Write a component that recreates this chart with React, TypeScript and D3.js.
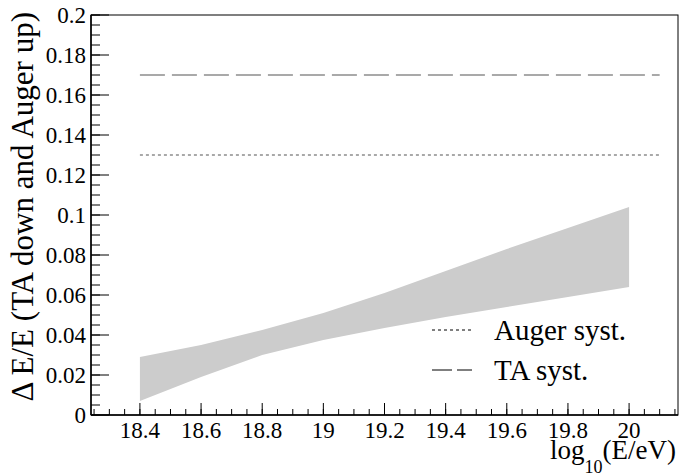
import React, { useEffect, useRef } from "react";
import * as d3 from "d3";

const bandX = [18.4, 18.6, 18.8, 19.0, 19.2, 19.4, 19.6, 19.8, 20.0];
const bandUpper = [0.029, 0.035, 0.0425, 0.051, 0.061, 0.072, 0.083, 0.0935, 0.104];
const bandLower = [0.007, 0.019, 0.030, 0.0375, 0.0435, 0.049, 0.054, 0.059, 0.064];

const augerSyst = 0.13;
const taSyst = 0.17;
const systRange = [18.4, 20.1];

const xTicks = [18.4, 18.6, 18.8, 19, 19.2, 19.4, 19.6, 19.8, 20];
const xTickLabels = ["18.4", "18.6", "18.8", "19", "19.2", "19.4", "19.6", "19.8", "20"];
const yTicks = [0, 0.02, 0.04, 0.06, 0.08, 0.1, 0.12, 0.14, 0.16, 0.18, 0.2];
const yTickLabels = ["0", "0.02", "0.04", "0.06", "0.08", "0.1", "0.12", "0.14", "0.16", "0.18", "0.2"];

const legendLabels = ["Auger syst.", "TA syst."];

const W = 680, H = 475;
const L = 91, R = 678, T = 15, B = 415;
const SERIF = "Liberation Serif";

export default function App() {
  const ref = useRef<SVGSVGElement | null>(null);

  useEffect(() => {
    const svg = d3.select(ref.current);
    svg.selectAll("*").remove();
    svg.attr("font-family", SERIF).style("font-family", SERIF);

    const x = d3.scaleLinear().domain([18.24, 20.16]).range([L, R]);
    const y = d3.scaleLinear().domain([0, 0.2]).range([B, T]);

    const pts = bandX.map((v, i) => ({ x: v, lo: bandLower[i], hi: bandUpper[i] }));
    const area = d3
      .area()
      .x((d: any) => x(d.x))
      .y0((d: any) => y(d.lo))
      .y1((d: any) => y(d.hi));
    svg.append("path").attr("d", (area as any)(pts)).attr("fill", "#cccccc");

    const hline = (val: number, dash: string) =>
      svg
        .append("line")
        .attr("x1", x(systRange[0]))
        .attr("x2", x(systRange[1]))
        .attr("y1", y(val))
        .attr("y2", y(val))
        .attr("stroke", "#555")
        .attr("stroke-width", 1.2)
        .attr("stroke-dasharray", dash);
    hline(taSyst, "25 7");
    hline(augerSyst, "3 3");

    svg
      .append("rect")
      .attr("x", L)
      .attr("y", T)
      .attr("width", R - L)
      .attr("height", B - T)
      .attr("fill", "none")
      .attr("stroke", "#000");
    svg.append("line").attr("x1", L).attr("x2", R).attr("y1", B).attr("y2", B).attr("stroke", "#000").attr("stroke-width", 1.5);
    svg.append("line").attr("x1", L).attr("x2", L).attr("y1", T).attr("y2", B).attr("stroke", "#000").attr("stroke-width", 1.5);

    const xMinor = d3.range(18.25, 20.16, 0.05);
    svg
      .selectAll(".xm")
      .data(xMinor)
      .enter()
      .append("line")
      .attr("x1", (d) => x(d))
      .attr("x2", (d) => x(d))
      .attr("y1", B)
      .attr("y2", B - 6)
      .attr("stroke", "#000");
    svg
      .selectAll(".xt")
      .data(xTicks)
      .enter()
      .append("line")
      .attr("x1", (d) => x(d))
      .attr("x2", (d) => x(d))
      .attr("y1", B)
      .attr("y2", B - 12)
      .attr("stroke", "#000");
    svg
      .selectAll(".xl")
      .data(xTicks)
      .enter()
      .append("text")
      .attr("x", (d) => x(d))
      .attr("y", 438)
      .attr("text-anchor", "middle")
      .attr("font-size", 23)
      .style("font-family", SERIF)
      .text((_, i) => xTickLabels[i]);

    const yMinor = d3.range(0, 0.2001, 0.005);
    svg
      .selectAll(".ym")
      .data(yMinor)
      .enter()
      .append("line")
      .attr("x1", L)
      .attr("x2", L + 9)
      .attr("y1", (d) => y(d))
      .attr("y2", (d) => y(d))
      .attr("stroke", "#000");
    svg
      .selectAll(".yt")
      .data(yTicks)
      .enter()
      .append("line")
      .attr("x1", L)
      .attr("x2", L + 18)
      .attr("y1", (d) => y(d))
      .attr("y2", (d) => y(d))
      .attr("stroke", "#000");
    svg
      .selectAll(".yl")
      .data(yTicks)
      .enter()
      .append("text")
      .attr("x", 86)
      .attr("y", (d) => y(d) + 8)
      .attr("text-anchor", "end")
      .attr("font-size", 23)
      .style("font-family", SERIF)
      .text((_, i) => yTickLabels[i]);

    const xt = svg
      .append("text")
      .attr("x", 676)
      .attr("y", 459)
      .attr("text-anchor", "end")
      .attr("font-size", 27)
      .style("font-family", SERIF);
    xt.append("tspan").text("log");
    xt.append("tspan").attr("font-size", 18).attr("dy", 14).text("10");
    xt.append("tspan").attr("dy", -14).text("(E/eV)");

    svg
      .append("text")
      .attr("transform", "translate(33, 12) rotate(-90)")
      .attr("text-anchor", "end")
      .attr("font-size", 31)
      .style("font-family", SERIF)
      .text("Δ E/E (TA down and Auger up)");

    const legendDash = ["3 3", "20 5"];
    const legendY = [330, 370];
    legendLabels.forEach((lab, i) => {
      svg
        .append("line")
        .attr("x1", 432)
        .attr("x2", 472)
        .attr("y1", legendY[i])
        .attr("y2", legendY[i])
        .attr("stroke", "#000")
        .attr("stroke-dasharray", legendDash[i]);
      svg
        .append("text")
        .attr("x", 494)
        .attr("y", legendY[i] + 10)
        .attr("font-size", 29)
        .style("font-family", SERIF)
        .text(lab);
    });
  }, []);

  return <svg ref={ref} width={W} height={H} style={{ position: "absolute", left: 0, top: 0 }} />;
}
